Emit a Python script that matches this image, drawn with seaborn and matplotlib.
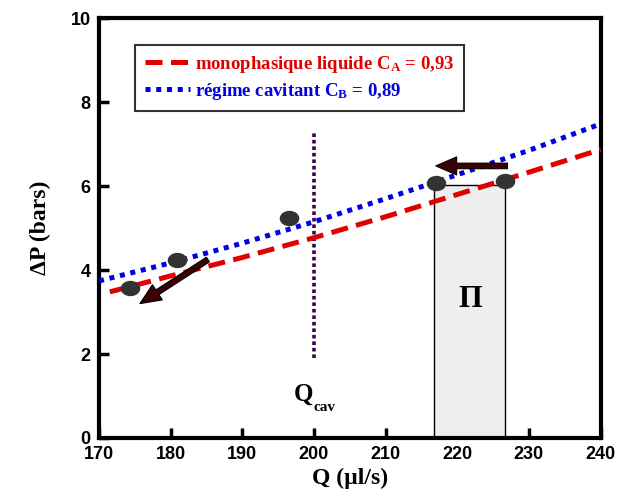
import numpy as np
import pandas as pd
import matplotlib
matplotlib.use('Agg')
import matplotlib.pyplot as plt
from matplotlib.path import Path
from matplotlib.transforms import Affine2D
import seaborn as sns

# Données
q_liquide = [171.5, 180, 190, 200, 210, 220, 230, 240]
dp_liquide = [3.48, 3.86, 4.30, 4.77, 5.27, 5.80, 6.33, 6.87]
q_cavit = [170, 180, 190, 200, 210, 220, 230, 240]
dp_cavit = [3.74, 4.17, 4.64, 5.15, 5.70, 6.27, 6.85, 7.48]
q_points = [174.3, 180.9, 196.5, 217.0, 226.7]
dp_points = [3.57, 4.25, 5.23, 6.08, 6.13]
q_cav = 200
dp_cav_line = [1.9, 7.3]
pi_zone = [216.8, 226.6]   # bornes de la zone Pi
pi_hauteur = 6.03
x_ticks = [170, 180, 190, 200, 210, 220, 230, 240]
y_ticks = [0, 2, 4, 6, 8, 10]

sns.set_style("ticks")
plt.rcParams['font.family'] = ['Liberation Sans', 'DejaVu Sans']
plt.rcParams['font.weight'] = 'bold'
plt.rcParams['axes.labelweight'] = 'bold'
for k in ['text.color', 'axes.labelcolor', 'xtick.color', 'ytick.color',
          'axes.edgecolor', 'xtick.labelcolor', 'ytick.labelcolor']:
    plt.rcParams[k] = 'black'
plt.rcParams['mathtext.fontset'] = 'custom'
plt.rcParams['mathtext.rm'] = 'Liberation Serif:bold'
plt.rcParams['mathtext.it'] = 'Liberation Serif:bold'
plt.rcParams['mathtext.bf'] = 'Liberation Serif:bold'

fig = plt.figure(figsize=(6.23, 5.04), dpi=100)
ax = fig.add_axes([0.159, 0.131, 0.805, 0.833])

serif = dict(family='Liberation Serif', weight='bold')

# zone Pi
ax.bar((pi_zone[0] + pi_zone[1]) / 2, pi_hauteur, width=pi_zone[1] - pi_zone[0],
       color='#eeeeee', edgecolor='black', linewidth=1, zorder=1)

df_l = pd.DataFrame({'Q': q_liquide, 'dP': dp_liquide})
df_c = pd.DataFrame({'Q': q_cavit, 'dP': dp_cavit})
sns.lineplot(data=df_l, x='Q', y='dP', ax=ax, color='#e00000', linewidth=3.6,
             dashes=False, label=r'monophasique liquide C$_{\mathrm{A}}$ = 0,93', zorder=3)
sns.lineplot(data=df_c, x='Q', y='dP', ax=ax, color='#0000e0', linewidth=3.6,
             dashes=False, label=r'régime cavitant C$_{\mathrm{B}}$ = 0,89', zorder=3)
ax.lines[0].set_dashes([3.4, 1.7])
ax.lines[1].set_dashes([1.0, 1.15])

# Q cavitation
ax.plot([q_cav, q_cav], dp_cav_line, color='#3a0848', linewidth=2.6,
        linestyle=(0, (1, 0.8)), zorder=2)

# points expérimentaux (ellipses)
ell = Path.unit_circle().transformed(Affine2D().scale(1.3, 1.0))
sns.scatterplot(x=q_points, y=dp_points, ax=ax, marker=ell, s=170,
                color='#333333', edgecolor='#333333', zorder=4)

# flèches
arrow = dict(facecolor='#3a0202', edgecolor='black', width=4, headwidth=13,
             headlength=15, shrink=0, linewidth=0.8)
ax.annotate('', xy=(175.7, 3.2), xytext=(185.2, 4.25), arrowprops=arrow, zorder=5)
ax.annotate('', xy=(217.0, 6.48), xytext=(227.0, 6.48), arrowprops=arrow, zorder=5)

ax.text(221.8, 3.3, 'Π', fontsize=22, ha='center', va='center', **serif)
ax.text(198.6, 1.05, 'Q', fontsize=18, ha='center', va='center', **serif)
ax.text(200.0, 0.72, 'cav', fontsize=11, ha='left', va='center', **serif)

ax.set_xlim(170, 240)
ax.set_ylim(0, 10)
ax.set_xticks(x_ticks)
ax.set_yticks(y_ticks)
ax.set_xticklabels([str(v) for v in x_ticks], fontsize=13, fontweight='heavy',
                   family='Liberation Sans')
ax.set_yticklabels([str(v) for v in y_ticks], fontsize=13, fontweight='heavy',
                   family='Liberation Sans')
ax.tick_params(direction='in', length=7, width=2.5, pad=6, colors='black')
for s in ax.spines.values():
    s.set_linewidth(3)
    s.set_color('black')
    s.set_visible(True)

ax.set_xlabel('Q (µl/s)', fontsize=17, labelpad=3, color='black', **serif)
ax.set_ylabel('ΔP (bars)', fontsize=17, labelpad=14, color='black', **serif)

leg = ax.legend(loc='upper left', bbox_to_anchor=(0.072, 0.937), fontsize=13.5,
                frameon=True, fancybox=False, handlelength=2.4, borderpad=0.5,
                labelspacing=0.3, handletextpad=0.3, borderaxespad=0)
leg.get_frame().set_edgecolor('black')
leg.get_frame().set_linewidth(1.5)
for t, c in zip(leg.get_texts(), ['#e00000', '#0000e0']):
    t.set_color(c)
    t.set_fontfamily('Liberation Serif')
    t.set_fontweight('bold')

fig.savefig('out.png', dpi=100)
